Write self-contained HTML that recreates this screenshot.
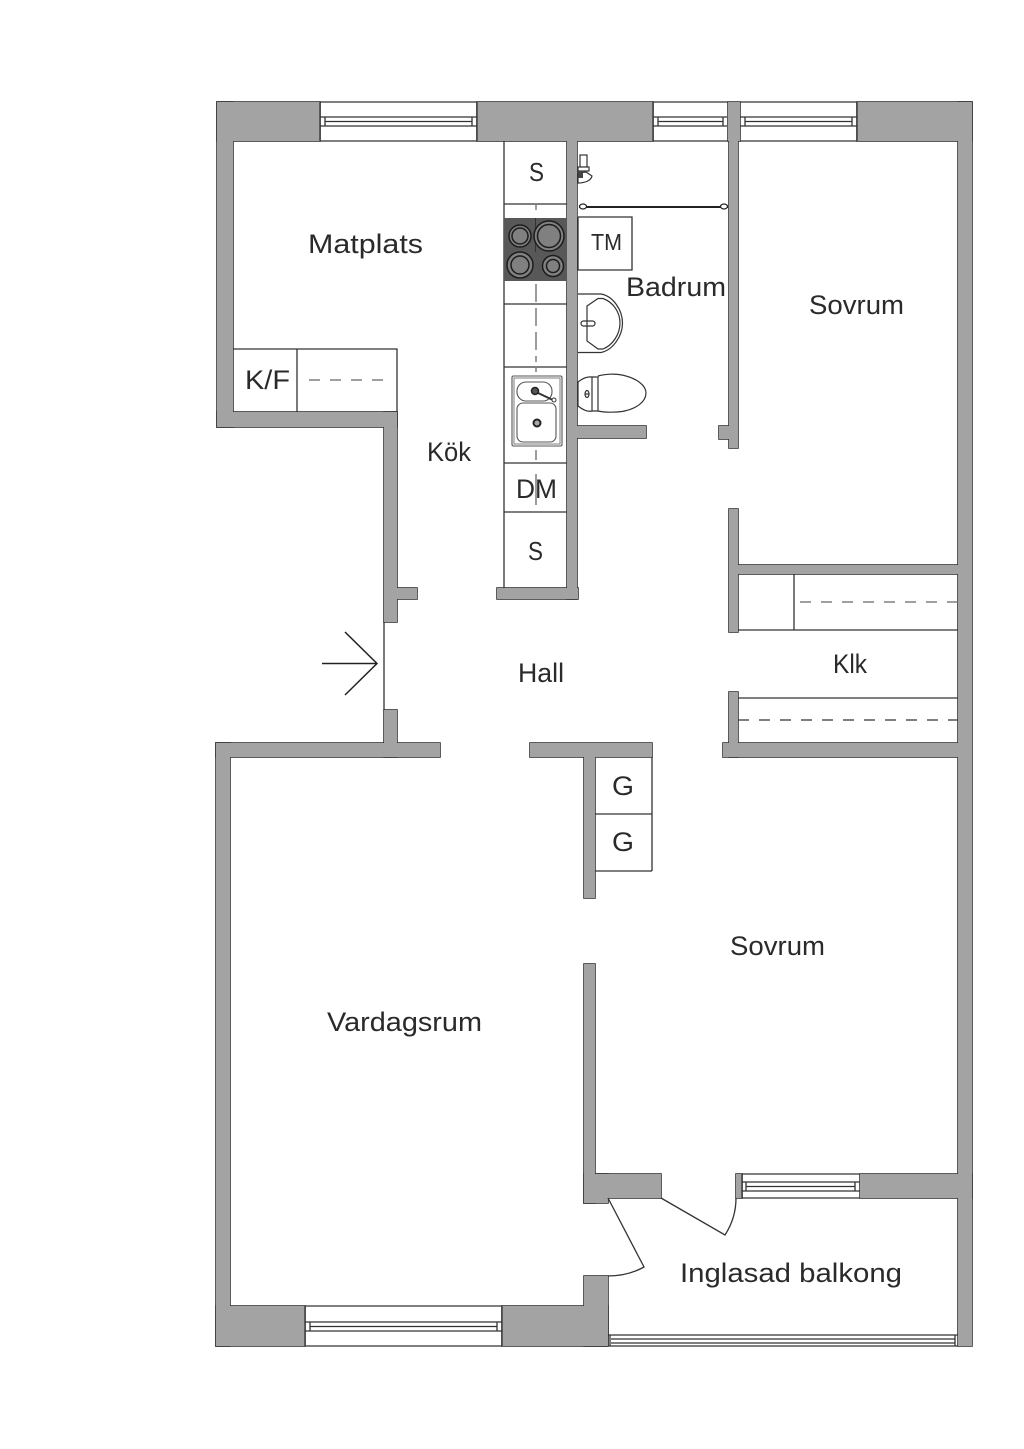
<!DOCTYPE html>
<html>
<head>
<meta charset="utf-8">
<title>Planlösning</title>
<style>
html,body{margin:0;padding:0;background:#fff}
svg{display:block}
text{font-family:"Liberation Sans",sans-serif;fill:#2a2a2a;font-size:27px}
</style>
</head>
<body>
<svg xmlns="http://www.w3.org/2000/svg" width="1024" height="1449" viewBox="0 0 1024 1449">
<rect width="1024" height="1449" fill="#fff"/>
<defs>
<g id="w">
<rect x="217" y="102" width="103" height="39"/>
<rect x="477" y="102" width="176" height="39"/>
<rect x="857" y="102" width="115" height="39"/>
<rect x="217" y="102" width="16" height="325"/>
<rect x="217" y="412" width="180" height="15"/>
<rect x="384" y="412" width="13" height="210"/>
<rect x="397" y="588" width="20" height="11"/>
<rect x="384" y="710" width="13" height="47"/>
<rect x="216" y="743" width="224" height="14"/>
<rect x="216" y="743" width="14" height="603"/>
<rect x="216" y="1306" width="89" height="40"/>
<rect x="502" y="1306" width="106" height="40"/>
<rect x="584" y="1276" width="24" height="70"/>
<rect x="530" y="743" width="122" height="14"/>
<rect x="584" y="757" width="11" height="141"/>
<rect x="584" y="964" width="11" height="239"/>
<rect x="584" y="1174" width="24" height="29"/>
<rect x="595" y="1174" width="66" height="24"/>
<rect x="736" y="1174" width="6" height="24"/>
<rect x="860" y="1174" width="112" height="24"/>
<rect x="958" y="102" width="14" height="1244"/>
<rect x="567" y="141" width="10" height="458"/>
<rect x="497" y="588" width="81" height="11"/>
<rect x="577" y="426" width="69" height="12"/>
<rect x="728" y="102" width="12" height="39"/>
<rect x="729" y="141" width="9" height="307"/>
<rect x="719" y="426" width="10" height="13"/>
<rect x="729" y="509" width="9" height="123"/>
<rect x="738" y="565" width="220" height="9"/>
<rect x="729" y="692" width="9" height="65"/>
<rect x="723" y="743" width="235" height="14"/>
</g>
</defs>

<!-- walls -->
<use href="#w" fill="#a3a3a3" stroke="#333" stroke-width="1.6"/>
<use href="#w" fill="#a3a3a3" stroke="none"/>

<g fill="none" stroke="#333" stroke-width="1.3">
<!-- top windows -->
<path d="M320 102H477M320 141H477M320 102V141M477 102V141"/>
<path d="M320 117H477M320 126H477M325 121.500H472M325 117V126M472 117V126"/>
<path d="M653 102H728M653 141H728M653 102V141"/>
<path d="M653 117H727M653 126H727M658 121.500H723M658 117V126M723 117V126"/>
<path d="M740 102H857M740 141H857M857 102V141"/>
<path d="M740 117H857M740 126H857M745 121.500H852M745 117V126M852 117V126"/>
<!-- bottom-left window -->
<path d="M305 1306H502M305 1346H502M305 1306V1346M502 1306V1346"/>
<path d="M305 1322H502M305 1331H502M310 1326.500H497M310 1322V1331M497 1322V1331"/>
<!-- balcony window in bedroom wall -->
<path d="M742 1174H860M742 1198H860M742 1174V1198"/>
<path d="M742 1182H860M742 1191H860M746 1186.500H855M746 1182V1191M855 1182V1191"/>
<!-- balcony front -->
<path d="M608 1335H958M609 1346H958M611 1339H955M611 1343H955M610 1335V1346M955 1335V1346"/>
<!-- entrance door line -->
<path d="M384 622V710"/>
<!-- balcony doors -->
<path d="M608 1198L644 1267Q628 1276 608 1276"/>
<path d="M661 1198L725 1235Q736 1218 736 1198"/>
<!-- K/F -->
<path d="M233 349H397V412M297 349V412"/>
<!-- kitchen counter -->
<path d="M504 141V588M504 204H567M504 304H567M504 367H567M504 463H567M504 512H567"/>
<!-- G -->
<path d="M595 814H652M595 871H652M652 757V871"/>
<!-- closet -->
<path d="M738 630H958M794 574V630M738 698H958"/>
<!-- TM -->
<path d="M578 217H632V270H578V217"/>
</g>

<!-- dashes -->
<g fill="none" stroke="#666" stroke-width="1.3" stroke-dasharray="11 10">
<path d="M309 380H386"/>
<path d="M800 602H958"/>
<path d="M738 720H958" stroke="#333"/>
</g>
<g fill="none" stroke="#666" stroke-width="1.3">
<path d="M536 205V210M536 284V302M536 308V326M536 332V350M536 356V362M536 368V372M536 450V460M536 474V505"/>
</g>

<!-- hob -->
<rect x="504" y="218" width="63" height="63" fill="#585858"/>
<path d="M535.500 218V252" stroke="#333" stroke-width="1"/>
<g stroke="#1c1c1c" stroke-width="1.500" fill="#808080">
<circle cx="520" cy="236" r="11"/><circle cx="520" cy="236" r="8"/>
<circle cx="549" cy="236" r="15"/><circle cx="549" cy="236" r="11.500"/>
<circle cx="520" cy="265" r="13"/><circle cx="520" cy="265" r="9"/>
<circle cx="553" cy="266" r="10.500"/><circle cx="553" cy="266" r="6.500"/>
</g>

<!-- sink -->
<g fill="#fff" stroke="#555" stroke-width="1.100">
<rect x="512" y="376" width="50" height="70" rx="1.500"/>
<rect x="514" y="378" width="46" height="66" fill="none" stroke="#888"/>
<rect x="517" y="382" width="35" height="19" rx="9"/>
<rect x="517" y="403" width="39" height="39" rx="6"/>
</g>
<path d="M536 392L555 401" stroke="#333" stroke-width="2" fill="none"/>
<circle cx="554" cy="400" r="2" fill="#fff" stroke="#333"/>
<circle cx="535" cy="391" r="3.500" fill="#555" stroke="#222" stroke-width="1.500"/>
<circle cx="537" cy="423" r="3.500" fill="#aaa" stroke="#222" stroke-width="2"/>

<!-- basin -->
<g fill="none" stroke="#333" stroke-width="1.200">
<path d="M578 294H601C613 296 622.500 310 622.500 323C622.500 336 613 350 601 352.500H578"/>
<path d="M587 306L598 298.500H603C613 302 620 312 620 323C620 334 613 345 603 349H598L587 341Z"/>
<rect x="581" y="321" width="14" height="5" rx="2.500"/>
<!-- toilet -->
<path d="M578 382C583 378 588 376.500 592 377V411C588 412 583 410 578 406Z"/>
<path d="M592 377H598V411H592"/>
<path d="M598 376C605 374 615 373.500 622 375C636 378 646 385 646 393C646 402 636 409 622 411.500C615 412.500 605 412.500 598 411"/>
<ellipse cx="587" cy="394" rx="2" ry="3.500"/>
<path d="M585 394H589"/>
</g>

<!-- shower rail -->
<path d="M579 207H728" stroke="#222" stroke-width="2"/>
<ellipse cx="583" cy="206.500" rx="3.500" ry="2.500" fill="#fff" stroke="#222" stroke-width="1.200"/>
<ellipse cx="724" cy="206.500" rx="3.500" ry="2.500" fill="#fff" stroke="#222" stroke-width="1.200"/>

<!-- shower head -->
<g fill="#fff" stroke="#333" stroke-width="1.200">
<rect x="580" y="155" width="7" height="12"/>
<rect x="578" y="167" width="11" height="4"/>
<path d="M578 173L586 172L592 176C591 181 584 183 578 183Z"/>
</g>
<rect x="578" y="171" width="5" height="7" fill="#444"/>

<!-- entrance arrow -->
<path d="M322 663.500H377M345 632L377 663.500L345 695" fill="none" stroke="#222" stroke-width="1.500"/>

<!-- labels -->
<text x="308" y="253" textLength="115" lengthAdjust="spacingAndGlyphs">Matplats</text>
<text x="427" y="461" textLength="44" lengthAdjust="spacingAndGlyphs">Kök</text>
<text x="529" y="181" style="font-size:26px" textLength="15" lengthAdjust="spacingAndGlyphs">S</text>
<text x="591" y="250" style="font-size:23px" textLength="31" lengthAdjust="spacingAndGlyphs">TM</text>
<text x="626" y="296" textLength="100" lengthAdjust="spacingAndGlyphs">Badrum</text>
<text x="809" y="314" textLength="95" lengthAdjust="spacingAndGlyphs">Sovrum</text>
<text x="245" y="389" textLength="45" lengthAdjust="spacingAndGlyphs">K/F</text>
<text x="516" y="498" textLength="41" lengthAdjust="spacingAndGlyphs">DM</text>
<text x="528" y="560" style="font-size:26px" textLength="15" lengthAdjust="spacingAndGlyphs">S</text>
<text x="518" y="682" textLength="46" lengthAdjust="spacingAndGlyphs">Hall</text>
<text x="833" y="673" textLength="34" lengthAdjust="spacingAndGlyphs">Klk</text>
<text x="612" y="795" textLength="22" lengthAdjust="spacingAndGlyphs">G</text>
<text x="612" y="851" textLength="22" lengthAdjust="spacingAndGlyphs">G</text>
<text x="730" y="955" textLength="95" lengthAdjust="spacingAndGlyphs">Sovrum</text>
<text x="327" y="1031" textLength="155" lengthAdjust="spacingAndGlyphs">Vardagsrum</text>
<text x="680" y="1282" textLength="222" lengthAdjust="spacingAndGlyphs">Inglasad balkong</text>
</svg>
</body>
</html>
